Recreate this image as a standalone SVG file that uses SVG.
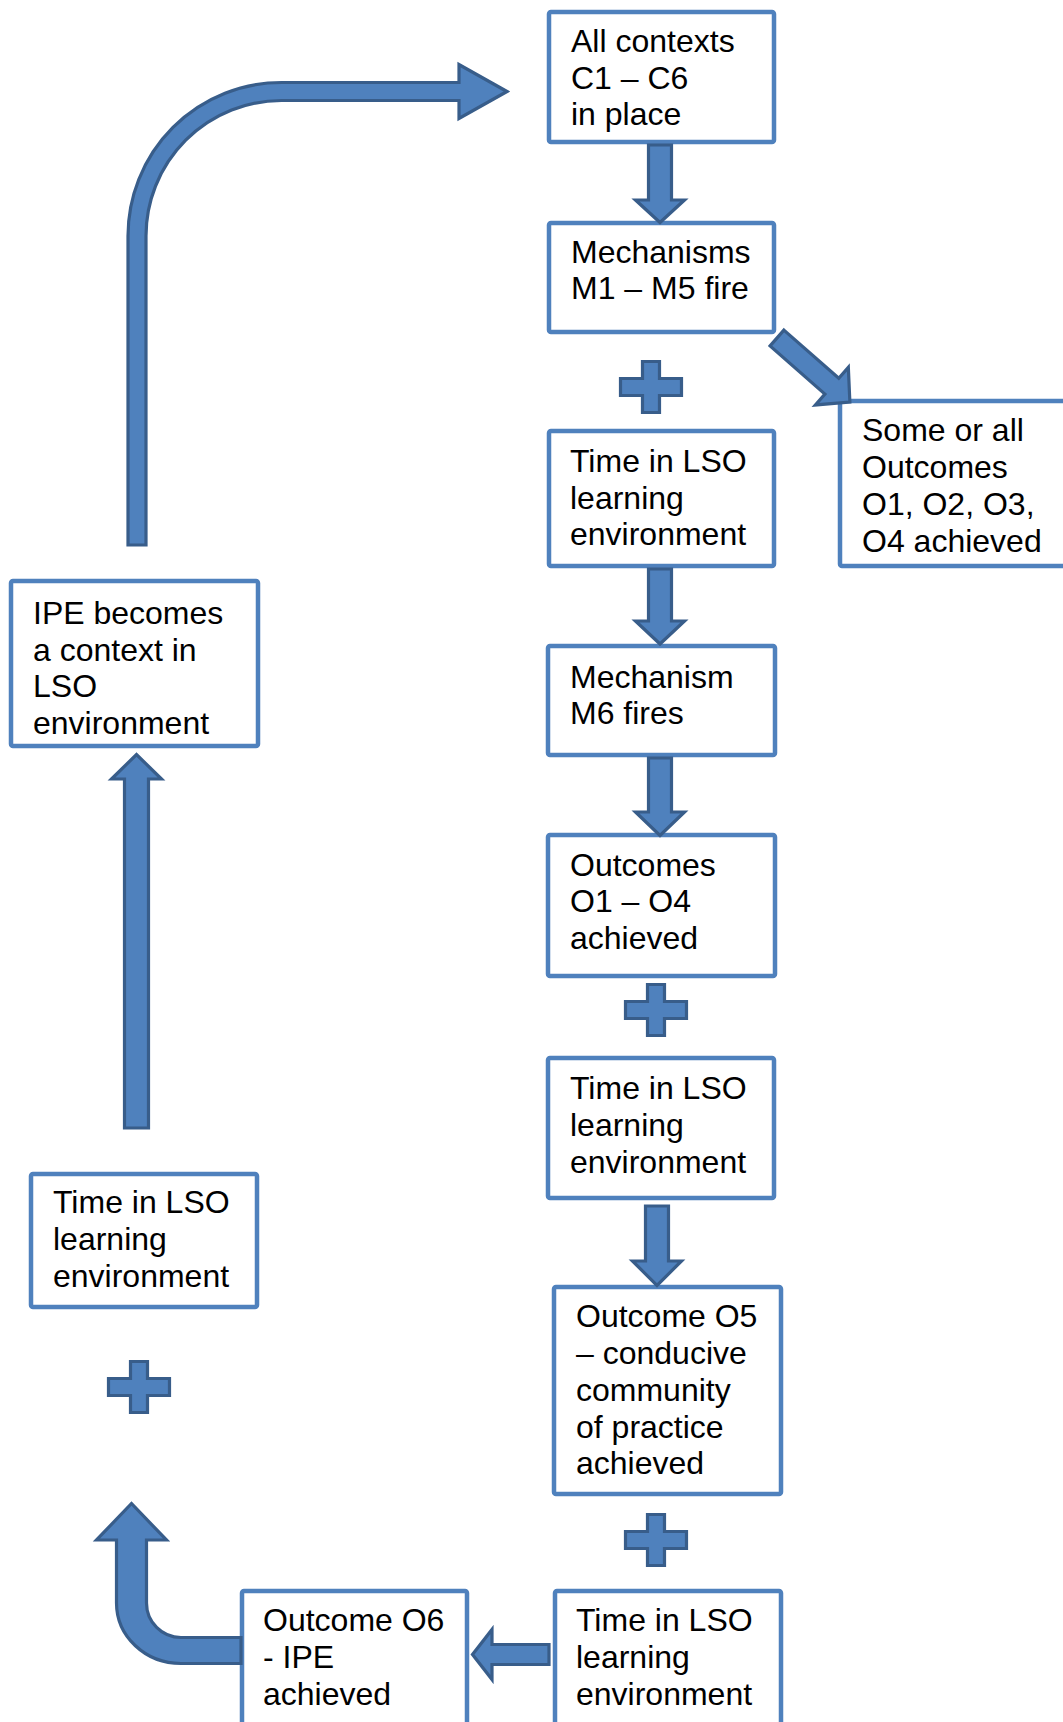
<svg xmlns="http://www.w3.org/2000/svg" width="1063" height="1722" viewBox="0 0 1063 1722">
  <style>
    .box { fill: #FFFFFF; stroke: #4F81BD; stroke-width: 4.5; }
    .lbl { font-family: "Liberation Sans", Arial, sans-serif; font-size: 32px; fill: #000000; }
    .arw { fill: #4F81BD; stroke: #385D8A; stroke-width: 3.2; stroke-linejoin: miter; }
  </style>
  <defs>
    <path id="plus" d="M -8.5,-25.5 H 8.5 V -8.5 H 30.5 V 8.5 H 8.5 V 25.5 H -8.5 V 8.5 H -30.5 V -8.5 H -8.5 Z"/>
  </defs>
  <rect width="1063" height="1722" fill="#FFFFFF"/>

  <g id="node-contexts">
    <rect class="box" x="549" y="12" width="225" height="130" rx="2"/>
    <text class="lbl" x="571" y="52">All contexts</text>
    <text class="lbl" x="571" y="89">C1 – C6</text>
    <text class="lbl" x="571" y="125">in place</text>
  </g>
  <g id="node-mechanisms-m1-m5">
    <rect class="box" x="549" y="223" width="225" height="109" rx="2"/>
    <text class="lbl" x="571" y="263">Mechanisms</text>
    <text class="lbl" x="571" y="299">M1 – M5 fire</text>
  </g>
  <g id="node-time-1">
    <rect class="box" x="549" y="431" width="225" height="135" rx="2"/>
    <text class="lbl" x="570" y="472">Time in LSO</text>
    <text class="lbl" x="570" y="509">learning</text>
    <text class="lbl" x="570" y="545">environment</text>
  </g>
  <g id="node-some-outcomes">
    <rect class="box" x="840" y="401" width="260" height="165" rx="2"/>
    <text class="lbl" x="862" y="441">Some or all</text>
    <text class="lbl" x="862" y="478">Outcomes</text>
    <text class="lbl" x="862" y="515">O1, O2, O3,</text>
    <text class="lbl" x="862" y="552">O4 achieved</text>
  </g>
  <g id="node-ipe-context">
    <rect class="box" x="11" y="581" width="247" height="165" rx="2"/>
    <text class="lbl" x="33" y="624">IPE becomes</text>
    <text class="lbl" x="33" y="661">a context in</text>
    <text class="lbl" x="33" y="697">LSO</text>
    <text class="lbl" x="33" y="734">environment</text>
  </g>
  <g id="node-mechanism-m6">
    <rect class="box" x="548" y="646" width="227" height="109" rx="2"/>
    <text class="lbl" x="570" y="688">Mechanism</text>
    <text class="lbl" x="570" y="724">M6 fires</text>
  </g>
  <g id="node-outcomes-o1-o4">
    <rect class="box" x="548" y="835" width="227" height="141" rx="2"/>
    <text class="lbl" x="570" y="876">Outcomes</text>
    <text class="lbl" x="570" y="912">O1 – O4</text>
    <text class="lbl" x="570" y="949">achieved</text>
  </g>
  <g id="node-time-2">
    <rect class="box" x="548" y="1058" width="226" height="140" rx="2"/>
    <text class="lbl" x="570" y="1099">Time in LSO</text>
    <text class="lbl" x="570" y="1136">learning</text>
    <text class="lbl" x="570" y="1173">environment</text>
  </g>
  <g id="node-time-left">
    <rect class="box" x="31" y="1174" width="226" height="133" rx="2"/>
    <text class="lbl" x="53" y="1213">Time in LSO</text>
    <text class="lbl" x="53" y="1250">learning</text>
    <text class="lbl" x="53" y="1287">environment</text>
  </g>
  <g id="node-outcome-o5">
    <rect class="box" x="554" y="1287" width="227" height="207" rx="2"/>
    <text class="lbl" x="576" y="1327">Outcome O5</text>
    <text class="lbl" x="576" y="1364">– conducive</text>
    <text class="lbl" x="576" y="1401">community</text>
    <text class="lbl" x="576" y="1438">of practice</text>
    <text class="lbl" x="576" y="1474">achieved</text>
  </g>
  <g id="node-time-3">
    <rect class="box" x="555" y="1591" width="226" height="200" rx="2"/>
    <text class="lbl" x="576" y="1631">Time in LSO</text>
    <text class="lbl" x="576" y="1668">learning</text>
    <text class="lbl" x="576" y="1705">environment</text>
  </g>
  <g id="node-outcome-o6">
    <rect class="box" x="242" y="1591" width="225" height="200" rx="2"/>
    <text class="lbl" x="263" y="1631">Outcome O6</text>
    <text class="lbl" x="263" y="1668">- IPE</text>
    <text class="lbl" x="263" y="1705">achieved</text>
  </g>

  <g id="connectors">
    <!-- block arrows down the main column -->
    <path class="arw" d="M 648.5,145 H 671.5 V 200 H 684.5 L 660,222.5 L 635.5,200 H 648.5 Z"/>
    <path class="arw" d="M 648.5,569 H 671.5 V 621 H 684.5 L 660,644 L 635.5,621 H 648.5 Z"/>
    <path class="arw" d="M 648.5,758 H 671.5 V 812 H 684.5 L 660,835.5 L 635.5,812 H 648.5 Z"/>
    <path class="arw" d="M 645.5,1206 H 668.5 V 1261 H 681.5 L 657,1285.5 L 632.5,1261 H 645.5 Z"/>
    <!-- diagonal arrow to the side outcomes -->
    <path class="arw" transform="translate(777,338) rotate(41.3)" d="M 0,-10.5 H 73 V -25 L 97,0 L 73,25 V 10.5 H 0 Z"/>
    <!-- leftward arrow into Outcome O6 -->
    <path class="arw" d="M 549,1644.5 V 1664.5 H 492 V 1679.5 L 472.5,1654.5 L 492,1629.5 V 1644.5 Z"/>
    <!-- bent arrow rising from Outcome O6 -->
    <path class="arw" d="M 241,1637.5 H 181 A 34.5,34.5 0 0 1 146.5,1603 V 1540 H 166.5 L 131.5,1503.5 L 96.5,1540 H 116.5 V 1603 A 64.5,60.5 0 0 0 181,1663.5 H 241 Z"/>
    <!-- long upward arrow into the IPE box -->
    <path class="arw" d="M 124.5,1128 V 779 H 111.5 L 136.5,754.5 L 161.5,779 H 148.5 V 1128 Z"/>
    <!-- curved arrow back to the contexts -->
    <path class="arw" d="M 128,545 V 236 A 153.5,153.5 0 0 1 281.5,82.5 H 459 V 64.5 L 507,91.5 L 459,118.5 V 100.5 H 281.5 A 135.5,135.5 0 0 0 146,236 V 545 Z"/>
  </g>

  <g id="plus-signs">
    <use href="#plus" class="arw" x="651" y="387"/>
    <use href="#plus" class="arw" x="656" y="1010"/>
    <use href="#plus" class="arw" x="139" y="1387"/>
    <use href="#plus" class="arw" x="656" y="1540"/>
  </g>
</svg>
